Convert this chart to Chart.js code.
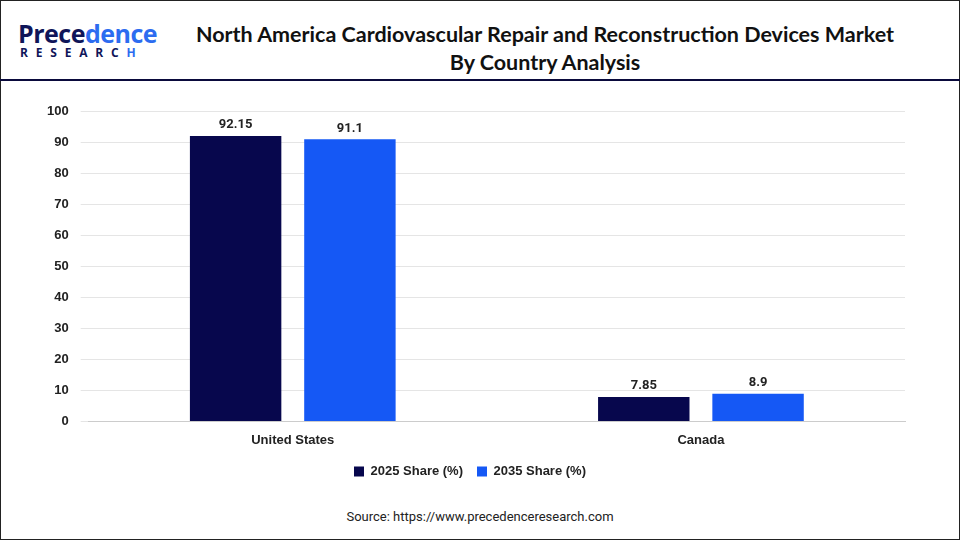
<!DOCTYPE html>
<html><head><meta charset="utf-8">
<script src="https://cdn.jsdelivr.net/npm/chart.js@4"></script>
<style>
body{margin:0;width:960px;height:540px;overflow:hidden;background:#fff;font-family:Roboto,"Noto Sans",sans-serif;}
#frame{position:absolute;left:0;top:0;width:958px;height:538px;border:1px solid #222;}
#hdr{position:absolute;left:0;top:0;width:960px;height:79px;border-bottom:2px solid #0a0a3c;}
#logo1{position:absolute;left:18px;top:16px;font:700 25px "Open Sans",sans-serif;color:#0f1559;letter-spacing:-0.5px;}
#logo1 span{color:#2c6cf0}
#logo2{position:absolute;left:20px;top:44px;font:700 12px "Open Sans",sans-serif;color:#0f1559;letter-spacing:7.8px;}
#title{position:absolute;left:170px;top:20px;width:750px;text-align:center;font:700 21.5px Lato,"Open Sans",sans-serif;line-height:28px;color:#111;}
#wrap{position:absolute;left:35px;top:92px;width:875px;height:396px;}
#src{position:absolute;left:0;width:960px;top:509px;text-align:center;font:13px Roboto,sans-serif;color:#222;}
</style></head><body>
<div id="frame"></div>
<div id="hdr"></div>
<div id="logo1">Prece<span>dence</span></div>
<div id="logo2">RESEARC<span style="color:#2c6cf0">H</span></div>
<div id="title">North America Cardiovascular Repair and Reconstruction Devices Market<br>By Country Analysis</div>
<div id="wrap"><canvas id="c" width="875" height="396"></canvas></div>
<div id="src">Source: https://www.precedenceresearch.com</div>
<script>
const categories=["United States","Canada"];
const share2025=[92.15,7.85];
const share2035=[91.1,8.9];
const labels2025=["92.15","7.85"];
const labels2035=["91.1","8.9"];
const valueLabels={id:'vl',afterDatasetsDraw(ch){const ctx=ch.ctx;ctx.save();ctx.font='bold 13px Roboto';ctx.fillStyle='#222';ctx.textAlign='center';
ch.data.datasets.forEach((ds,i)=>{ch.getDatasetMeta(i).data.forEach((b,j)=>{ctx.fillText(ds.lbl[j],b.x,b.y-11);});});ctx.restore();}};
const cfg={type:'bar',
data:{labels:categories,datasets:[
{label:'2025 Share (%)',data:share2025,lbl:labels2025,backgroundColor:'#07074d',categoryPercentage:0.56,barPercentage:0.8},
{label:'2035 Share (%)',data:share2035,lbl:labels2035,backgroundColor:'#1558f5',categoryPercentage:0.56,barPercentage:0.8}]},
options:{responsive:false,animation:false,devicePixelRatio:1,
layout:{padding:{top:8,right:5}},
plugins:{legend:{position:'bottom',labels:{boxWidth:10,boxHeight:10,font:{size:13,weight:'bold'},color:'#222',padding:14}},tooltip:{enabled:false}},
scales:{x:{grid:{display:false},border:{color:'#ccc'},ticks:{font:{size:13,weight:'bold'},color:'#222'}},
y:{min:0,max:100,ticks:{stepSize:10,font:{size:13,weight:'bold'},color:'#222',padding:12},grid:{color:'#e5e5e5'},border:{display:false}}}},
plugins:[valueLabels]};
new Chart(document.getElementById('c'),cfg);
</script>
</body></html>
